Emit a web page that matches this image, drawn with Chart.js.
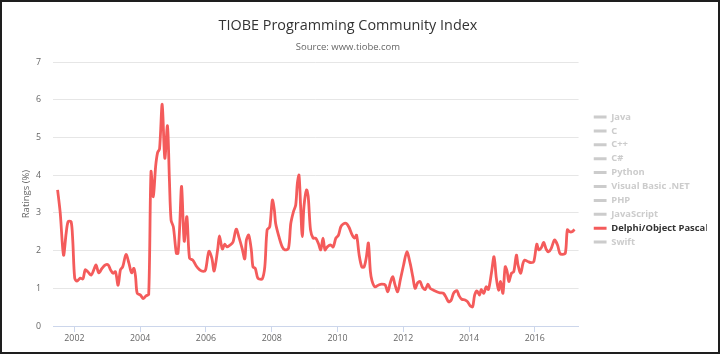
<!DOCTYPE html>
<html>
<head>
<meta charset="utf-8">
<title>TIOBE Programming Community Index</title>
<script src="https://cdn.jsdelivr.net/npm/chart.js@4.4.1/dist/chart.umd.min.js"></script>
<style>
  html, body { margin: 0; padding: 0; background: #fff; }
  #frame { width: 720px; height: 354px; box-sizing: border-box; border: 2px solid #1e1e1e; }
  #frame canvas { display: block; }
</style>
</head>
<body>
<div id="frame"><canvas id="tiobeChart" width="716" height="350"></canvas></div>
<script>
// languages in the legend (only Delphi is switched on)
const languages = ['Java', 'C', 'C++', 'C#', 'Python', 'Visual Basic .NET', 'PHP', 'JavaScript', 'Delphi/Object Pascal', 'Swift'];
const shownLanguage = 'Delphi/Object Pascal';

// sample dates as decimal years
const dates = [
  2001.49, 2001.57, 2001.67, 2001.75, 2001.81, 2001.90, 2001.95,
  2002.01, 2002.08, 2002.18, 2002.26, 2002.33, 2002.41, 2002.51, 2002.59, 2002.66, 2002.74, 2002.84, 2002.94,
  2003.03, 2003.10, 2003.18, 2003.25, 2003.33, 2003.40, 2003.47, 2003.57, 2003.66, 2003.74, 2003.81, 2003.86, 2003.91,
  2004.01, 2004.09, 2004.18, 2004.26, 2004.33, 2004.40, 2004.47, 2004.53, 2004.59, 2004.67, 2004.75, 2004.83, 2004.89, 2004.94,
  2005.01, 2005.10, 2005.15, 2005.20, 2005.26, 2005.34, 2005.42, 2005.50, 2005.60, 2005.70, 2005.81, 2005.92, 2005.99,
  2006.09, 2006.18, 2006.25, 2006.36, 2006.41, 2006.50, 2006.57, 2006.64, 2006.72, 2006.82, 2006.92,
  2007.01, 2007.10, 2007.18, 2007.23, 2007.30, 2007.38, 2007.43, 2007.50, 2007.58, 2007.71, 2007.79, 2007.86, 2007.94,
  2008.02, 2008.08, 2008.12, 2008.22, 2008.32, 2008.40, 2008.51, 2008.58, 2008.66, 2008.73, 2008.78, 2008.83, 2008.88, 2008.93, 2008.98,
  2009.06, 2009.11, 2009.18, 2009.26, 2009.34, 2009.42, 2009.49, 2009.56, 2009.62, 2009.69, 2009.79, 2009.87, 2009.95,
  2010.03, 2010.10, 2010.18, 2010.27, 2010.35, 2010.45, 2010.52, 2010.58, 2010.66, 2010.74, 2010.81, 2010.88, 2010.94,
  2011.00, 2011.05, 2011.14, 2011.25, 2011.35, 2011.45, 2011.53, 2011.60, 2011.68, 2011.75, 2011.83, 2011.91,
  2012.01, 2012.11, 2012.21, 2012.29, 2012.36, 2012.44, 2012.51, 2012.59, 2012.67, 2012.75, 2012.82, 2012.92,
  2013.02, 2013.12, 2013.22, 2013.29, 2013.38, 2013.46, 2013.53, 2013.63, 2013.70, 2013.78, 2013.88, 2013.96,
  2014.04, 2014.11, 2014.17, 2014.24, 2014.32, 2014.37, 2014.45, 2014.52, 2014.59, 2014.68, 2014.76, 2014.83, 2014.90, 2014.96,
  2015.03, 2015.10, 2015.16, 2015.21, 2015.29, 2015.36, 2015.44, 2015.49, 2015.57, 2015.64, 2015.69, 2015.79, 2015.89, 2015.97,
  2016.06, 2016.12, 2016.20, 2016.27, 2016.35, 2016.42, 2016.50, 2016.60, 2016.69, 2016.76, 2016.84, 2016.93, 2016.99,
  2017.06, 2017.13, 2017.21
];

// Delphi/Object Pascal ratings in %
const ratings = [
  3.61, 3.00, 1.88, 2.46, 2.77, 2.77, 2.28,
  1.27, 1.19, 1.27, 1.25, 1.49, 1.44, 1.35, 1.49, 1.62, 1.41, 1.53, 1.62,
  1.62, 1.49, 1.40, 1.44, 1.08, 1.49, 1.57, 1.90, 1.66, 1.41, 1.53, 1.31, 0.87,
  0.82, 0.73, 0.80, 0.84, 4.09, 3.43, 4.23, 4.60, 4.70, 5.88, 4.45, 5.31, 3.87, 2.81,
  2.63, 1.93, 1.93, 2.60, 3.70, 2.25, 2.90, 1.80, 1.75, 1.60, 1.49, 1.45, 1.49,
  1.98, 1.80, 1.46, 2.05, 2.39, 2.04, 2.17, 2.10, 2.14, 2.22, 2.57,
  2.34, 2.06, 1.78, 2.28, 2.41, 2.02, 1.57, 1.53, 1.27, 1.25, 1.57, 2.55, 2.63,
  3.34, 3.08, 2.72, 2.37, 2.10, 2.02, 2.06, 2.72, 3.03, 3.21, 3.78, 4.00, 3.16, 2.37, 3.16,
  3.61, 3.43, 2.55, 2.33, 2.33, 2.19, 2.02, 2.33, 2.02, 2.10, 2.15, 2.10, 2.33,
  2.41, 2.63, 2.71, 2.72, 2.62, 2.41, 2.33, 2.41, 1.88, 1.57, 1.57, 1.84, 2.20,
  1.45, 1.20, 1.04, 1.09, 1.11, 1.09, 0.91, 1.13, 1.31, 1.09, 0.91, 1.22,
  1.62, 1.97, 1.66, 1.31, 1.00, 1.15, 1.18, 1.02, 0.97, 1.11, 1.00, 0.95,
  0.91, 0.88, 0.87, 0.78, 0.64, 0.69, 0.87, 0.94, 0.80, 0.71, 0.69, 0.64,
  0.53, 0.51, 0.82, 0.93, 0.82, 0.97, 0.87, 1.04, 0.97, 1.40, 1.84, 1.27, 0.95, 1.18,
  0.87, 1.57, 1.44, 1.18, 1.40, 1.44, 1.88, 1.62, 1.40, 1.66, 1.75, 1.71, 1.68, 1.71,
  2.17, 2.02, 2.08, 2.22, 2.03, 1.97, 2.06, 2.28, 2.15, 1.93, 1.90, 1.94, 2.55,
  2.50, 2.50, 2.56
];

const yearTicks = [2002, 2004, 2006, 2008, 2010, 2012, 2014, 2016];
const ratingTicks = [0, 1, 2, 3, 4, 5, 6, 7];

Chart.defaults.font.family = "'Open Sans', sans-serif";
Chart.defaults.color = '#666666';

const datasets = languages.map(name => ({
  label: name,
  data: name === shownLanguage ? dates.map((d, i) => ({ x: d, y: ratings[i] })) : [],
  hidden: name !== shownLanguage,
  borderColor: '#f45b5b',
  backgroundColor: '#f45b5b',
  borderWidth: 2.8,
  pointRadius: 0,
  tension: 0.3,
  fill: false
}));

// the title block in the original is centred a bit left of the canvas middle
const titleShift = {
  id: 'titleShift',
  afterLayout(chart) {
    chart.boxes
      .filter(b => b.position === 'top' && !b.axis && b !== chart.legend)
      .forEach(b => { b.left -= 6.4; b.right -= 6.4; });
  }
};

new Chart(document.getElementById('tiobeChart'), {
  type: 'line',
  data: { datasets },
  plugins: [titleShift],
  options: {
    responsive: false,
    animation: false,
    layout: { padding: { left: 0, right: 11.3, top: 0, bottom: 7.4 } },
    plugins: {
      title: {
        display: true, text: 'TIOBE Programming Community Index', color: '#333333',
        font: { size: 14.4, weight: 'normal' }, padding: { top: 15.4, bottom: 0 }
      },
      subtitle: {
        display: true, text: 'Source: www.tiobe.com', color: '#666666',
        font: { size: 9.5 }, padding: { top: 6.7, bottom: 9.3 }
      },
      legend: {
        position: 'right', align: 'center', onClick: null,
        title: { display: true, text: ' ', font: { size: 10 }, padding: { top: 0, bottom: 0.5 } },
        labels: {
          boxWidth: 12.8, boxHeight: 3, padding: 4.5,
          font: { size: 9.4, weight: 'bold' },
          generateLabels(chart) {
            return chart.data.datasets.map((ds, i) => {
              const on = chart.isDatasetVisible(i);
              return {
                text: ds.label, datasetIndex: i, hidden: false,
                fillStyle: on ? ds.borderColor : '#cccccc',
                strokeStyle: 'transparent', lineWidth: 0,
                fontColor: on ? '#333333' : '#cccccc'
              };
            });
          }
        }
      },
      tooltip: { enabled: false }
    },
    scales: {
      x: {
        type: 'linear', min: 2001.35, max: 2017.33,
        afterBuildTicks(s) { s.ticks = yearTicks.map(v => ({ value: v })); },
        ticks: { font: { size: 8.8 }, padding: 1, maxRotation: 0, callback: v => String(v) },
        grid: { drawOnChartArea: false, drawTicks: true, tickLength: 6, tickColor: '#ccd6eb' },
        border: { color: '#ccd6eb', width: 1 }
      },
      y: {
        min: 0, max: 7,
        afterBuildTicks(s) { s.ticks = ratingTicks.map(v => ({ value: v })); },
        afterFit(s) { s.width = 51; },
        ticks: { font: { size: 8.8 }, padding: 12 },
        grid: {
          drawTicks: false,
          color: c => (c.tick && c.tick.value === 0 ? '#ccd6eb' : '#e6e6e6')
        },
        border: { display: false },
        title: { display: true, text: 'Ratings (%)', font: { size: 9.5 }, padding: { top: 18.3, bottom: 0 } }
      },
      gap: {
        position: 'right', display: true,
        grid: { display: false }, border: { display: false }, ticks: { display: false },
        afterFit(s) { s.width = 10.7; }
      }
    }
  }
});
</script>
</body>
</html>
